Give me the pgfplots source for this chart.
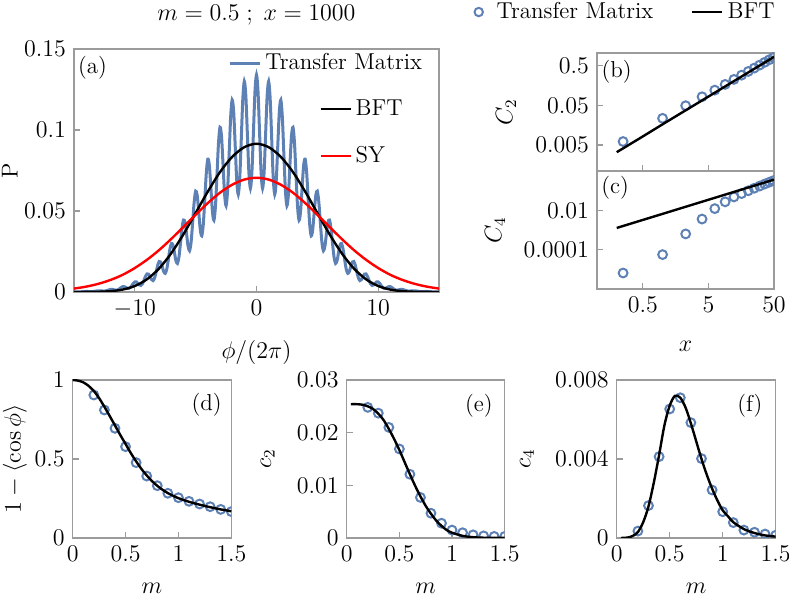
\documentclass[border=0pt]{standalone}
\usepackage{pgfplots}
\pgfplotsset{compat=1.18}
\definecolor{tmblue}{RGB}{94,129,181}
\definecolor{framegray}{RGB}{155,155,155}
\pgfplotsset{
  base/.style={scale only axis, anchor=south west,
    axis line style={framegray, line width=0.6pt},
    tick style={framegray, line width=0.6pt},
    major tick length=3pt, minor tick length=0pt, tick align=inside,
    xtick pos=left, ytick pos=left, clip marker paths=true,
    scaled x ticks=false, scaled y ticks=false,
    every axis y label/.style={rotate=90, anchor=center},
    every axis x label/.style={anchor=center}},
  tmmark/.style={only marks, mark=o, mark size=2.2pt, mark options={tmblue, line width=1pt, solid}, color=tmblue},
  bftline/.style={black, line width=1.2pt, smooth, no markers},
  lineleg/.style={legend image code/.code={\draw[##1] (0pt,0pt) -- (15pt,0pt);}},
  circleg/.style={legend image code/.code={\path[draw=none] (0pt,0pt) (11pt,0pt); \node[draw=tmblue, circle, line width=1pt, inner sep=0pt, outer sep=0pt, minimum size=4.2pt] at (4pt,0pt) {};}},
}
\begin{document}
\fontsize{11.5}{13.8}\selectfont
\begin{tikzpicture}
\useasboundingbox (0,0) rectangle (394.5pt,298.5pt);
% ---------------- (a)
\begin{axis}[base, at={(37pt,152.5pt)}, width=182.5pt, height=121.5pt,
  xmin=-15, xmax=15, ymin=0, ymax=0.15,
  xtick={-10,0,10}, xticklabels={$-10$,$0$,$10$},
  ytick={0,0.05,0.1,0.15}, yticklabels={$0$,$0.05$,$0.1$,$0.15$},
  xlabel={$\phi/(2\pi)$}, ylabel={P},
  x label style={at={(axis description cs:0.5,-0.247)}},
  y label style={at={(axis description cs:-0.176,0.5)}},
  title={$m=0.5\;;\;x=1000$},
  title style={at={(axis description cs:0.5,1.14)}, anchor=center, yshift=-6pt},
  legend style={draw=none, fill=none, at={(0.422,0.942)}, anchor=west, inner sep=0pt},
  lineleg]
\addplot[tmblue, line width=1.5pt, smooth, no markers] table {
-15 0.00014
-14.5 0.00010
-14 0.00033
-13.5 0.00024
-13 0.00075
-12.75 0.00068
-12.5 0.00053
-12.25 0.00099
-12 0.00162
-11.875 0.00164
-11.75 0.00144
-11.625 0.00118
-11.5 0.00112
-11.375 0.00141
-11.25 0.00205
-11.125 0.00278
-11 0.00327
-10.875 0.00329
-10.75 0.00287
-10.625 0.00234
-10.5 0.00219
-10.375 0.00275
-10.25 0.00395
-10.125 0.00533
-10 0.00624
-9.875 0.00622
-9.75 0.00537
-9.625 0.00436
-9.5 0.00405
-9.375 0.00504
-9.25 0.00719
-9.125 0.00963
-9 0.01117
-8.875 0.01105
-8.75 0.00948
-8.625 0.00762
-8.5 0.00703
-8.375 0.00869
-8.25 0.01230
-8.125 0.01634
-8 0.01882
-7.875 0.01848
-7.75 0.01572
-7.625 0.01255
-7.5 0.01149
-7.375 0.01408
-7.25 0.01979
-7.125 0.02609
-7 0.02981
-6.875 0.02905
-6.75 0.02453
-6.625 0.01943
-6.5 0.01765
-6.375 0.02147
-6.25 0.02995
-6.125 0.03918
-6 0.04441
-5.875 0.04295
-5.75 0.03600
-5.625 0.02829
-5.5 0.02550
-5.375 0.03078
-5.25 0.04261
-5.125 0.05532
-5 0.06224
-4.875 0.05973
-4.75 0.04968
-4.625 0.03875
-4.5 0.03466
-4.375 0.04152
-4.25 0.05703
-4.125 0.07347
-4 0.08203
-3.875 0.07812
-3.75 0.06448
-3.625 0.04990
-3.5 0.04430
-3.375 0.05266
-3.25 0.07178
-3.125 0.09177
-3 0.10167
-2.875 0.09609
-2.75 0.07870
-2.625 0.06045
-2.5 0.05325
-2.375 0.06281
-2.25 0.08497
-2.125 0.10780
-2 0.11853
-1.875 0.11116
-1.75 0.09035
-1.625 0.06887
-1.5 0.06020
-1.375 0.07047
-1.25 0.09461
-1.125 0.11911
-1 0.12995
-0.875 0.12095
-0.75 0.09755
-0.625 0.07379
-0.5 0.06401
-0.375 0.07436
-0.25 0.09906
-0.125 0.12376
0 0.13400
0.125 0.12376
0.25 0.09906
0.375 0.07436
0.5 0.06401
0.625 0.07379
0.75 0.09755
0.875 0.12095
1 0.12995
1.125 0.11911
1.25 0.09461
1.375 0.07047
1.5 0.06020
1.625 0.06887
1.75 0.09035
1.875 0.11116
2 0.11853
2.125 0.10780
2.25 0.08497
2.375 0.06281
2.5 0.05325
2.625 0.06045
2.75 0.07870
2.875 0.09609
3 0.10167
3.125 0.09177
3.25 0.07178
3.375 0.05266
3.5 0.04430
3.625 0.04990
3.75 0.06448
3.875 0.07812
4 0.08203
4.125 0.07347
4.25 0.05703
4.375 0.04152
4.5 0.03466
4.625 0.03875
4.75 0.04968
4.875 0.05973
5 0.06224
5.125 0.05532
5.25 0.04261
5.375 0.03078
5.5 0.02550
5.625 0.02829
5.75 0.03600
5.875 0.04295
6 0.04441
6.125 0.03918
6.25 0.02995
6.375 0.02147
6.5 0.01765
6.625 0.01943
6.75 0.02453
6.875 0.02905
7 0.02981
7.125 0.02609
7.25 0.01979
7.375 0.01408
7.5 0.01149
7.625 0.01255
7.75 0.01572
7.875 0.01848
8 0.01882
8.125 0.01634
8.25 0.01230
8.375 0.00869
8.5 0.00703
8.625 0.00762
8.75 0.00948
8.875 0.01105
9 0.01117
9.125 0.00963
9.25 0.00719
9.375 0.00504
9.5 0.00405
9.625 0.00436
9.75 0.00537
9.875 0.00622
10 0.00624
10.125 0.00533
10.25 0.00395
10.375 0.00275
10.5 0.00219
10.625 0.00234
10.75 0.00287
10.875 0.00329
11 0.00327
11.125 0.00278
11.25 0.00205
11.375 0.00141
11.5 0.00112
11.625 0.00118
11.75 0.00144
11.875 0.00164
12 0.00162
12.25 0.00099
12.5 0.00053
12.75 0.00068
13 0.00075
13.5 0.00024
14 0.00033
14.5 0.00010
15 0.00014
};
\addlegendentry{Transfer Matrix}
\addplot[bftline, forget plot] table {
-15 0.00001
-14 0.00003
-13 0.00014
-12 0.00050
-11 0.00149
-10 0.00370
-9 0.00786
-8 0.01455
-7 0.0240
-6 0.0357
-5 0.0488
-4 0.0620
-3 0.0740
-2 0.0834
-1 0.0894
0 0.0915
1 0.0894
2 0.0834
3 0.0740
4 0.0620
5 0.0488
6 0.0357
7 0.0240
8 0.01455
9 0.00786
10 0.00370
11 0.00149
12 0.00050
13 0.00014
14 0.00003
15 0.00001
};
\addplot[red, line width=1.2pt, smooth, no markers, forget plot] table {
-15 0.00210
-14 0.00330
-13 0.00503
-12 0.00743
-11 0.0106
-10 0.0148
-9 0.0199
-8 0.0259
-7 0.0328
-6 0.0402
-5 0.0477
-4 0.0549
-3 0.0613
-2 0.0662
-1 0.0694
0 0.0705
1 0.0694
2 0.0662
3 0.0613
4 0.0549
5 0.0477
6 0.0402
7 0.0328
8 0.0259
9 0.0199
10 0.0148
11 0.0106
12 0.00743
13 0.00503
14 0.00330
15 0.00210
};
\node at (rel axis cs:0.0507,0.924) {(a)};
\end{axis}
% overlay legends for (a)
\begin{axis}[base, hide axis, at={(37pt,152.5pt)}, width=182.5pt, height=121.5pt,
  xmin=-15, xmax=15, ymin=0, ymax=0.15,
  legend style={draw=none, fill=none, at={(0.671,0.753)}, anchor=west, inner sep=0pt}, lineleg]
\addlegendimage{black, line width=1.2pt}
\addlegendentry{BFT}
\end{axis}
\begin{axis}[base, hide axis, at={(37pt,152.5pt)}, width=182.5pt, height=121.5pt,
  xmin=-15, xmax=15, ymin=0, ymax=0.15,
  legend style={draw=none, fill=none, at={(0.671,0.56)}, anchor=west, inner sep=0pt}, lineleg]
\addlegendimage{red, line width=1.2pt}
\addlegendentry{SY}
\end{axis}
% ---------------- (b)
\begin{axis}[base, at={(298.5pt,213pt)}, width=88.5pt, height=59pt,
  xmode=log, ymode=log, xmin=0.1, xmax=50, ymin=0.0011, ymax=1.05,
  xtick={0.5,5,50}, xticklabels={},
  ytick={0.005,0.05,0.5}, yticklabels={$0.005$,$0.05$,$0.5$},
  ylabel={$C_2$}, y label style={at={(axis description cs:-0.514,0.5)}},
  legend columns=2,
  legend style={draw=none, fill=none, at={(1.028,1.347)}, anchor=east, inner sep=0pt,
    /tikz/every even column/.append style={column sep=17pt}}]
\addplot[tmmark, circleg] table {
0.25 0.0061
1 0.0235
2.25 0.049
4 0.0824
6.25 0.121
9 0.169
12.25 0.226
16 0.289
20.25 0.359
25 0.436
30.25 0.520
36 0.610
42.25 0.707
49 0.810
};
\addlegendentry{Transfer Matrix}
\addplot[black, line width=1.2pt, no markers, lineleg] table {
0.2 0.00328
0.5 0.0082
1 0.0166
2 0.0333
5 0.0833
10 0.167
20 0.334
50 0.837
};
\addlegendentry{BFT}
\node at (rel axis cs:0.111,0.843) {(b)};
\end{axis}
% ---------------- (c)
\begin{axis}[base, at={(298.5pt,154pt)}, width=88.5pt, height=59pt,
  xmode=log, ymode=log, xmin=0.1, xmax=50, ymin=1e-6, ymax=1,
  xtick={0.5,5,50}, xticklabels={$0.5$,$5$,$50$},
  ytick={0.0001,0.01}, yticklabels={$0.0001$,$0.01$},
  xlabel={$x$}, ylabel={$C_4$},
  x label style={at={(axis description cs:0.5,-0.49)}},
  y label style={at={(axis description cs:-0.576,0.5)}}]
\addplot[tmmark] table {
0.25 0.0000065
1 0.000056
2.25 0.00063
4 0.0036
6.25 0.0122
9 0.027
12.25 0.048
16 0.071
20.25 0.0988
25 0.1327
30.25 0.1717
36 0.217
42.25 0.267
49 0.324
};
\addplot[black, line width=1.2pt, no markers] table {
0.2 0.00127
1 0.0066
5 0.0344
50 0.364
};
\node at (rel axis cs:0.102,0.86) {(c)};
\end{axis}
% ---------------- (d)
\begin{axis}[base, at={(36.35pt,29.5pt)}, width=79.3pt, height=79pt,
  xmin=0, xmax=1.5, ymin=0, ymax=1,
  xtick={0,0.5,1,1.5}, xticklabels={$0$,$0.5$,$1$,$1.5$},
  ytick={0,0.5,1}, yticklabels={$0$,$0.5$,$1$},
  xlabel={$m$}, ylabel={$1-\langle\cos\phi\rangle$},
  x label style={at={(axis description cs:0.5,-0.316)}},
  y label style={at={(axis description cs:-0.364,0.5)}}]
\addplot[tmmark] table {
0.2 0.905
0.3 0.81
0.4 0.694
0.5 0.578
0.6 0.477
0.7 0.392
0.8 0.331
0.9 0.283
1.0 0.255
1.1 0.232
1.2 0.215
1.3 0.198
1.4 0.181
1.5 0.167
};
\addplot[bftline] table {
0 1.0
0.05 0.996
0.1 0.985
0.15 0.963
0.2 0.93
0.25 0.885
0.3 0.83
0.35 0.772
0.4 0.712
0.45 0.652
0.5 0.595
0.55 0.537
0.6 0.485
0.65 0.437
0.7 0.396
0.75 0.36
0.8 0.33
0.85 0.305
0.9 0.284
0.95 0.267
1.0 0.252
1.1 0.229
1.2 0.211
1.3 0.195
1.4 0.181
1.5 0.169
};
\node at (rel axis cs:0.845,0.842) {(d)};
\end{axis}
% ---------------- (e)
\begin{axis}[base, at={(173.35pt,29.5pt)}, width=79pt, height=79pt,
  xmin=0, xmax=1.5, ymin=0, ymax=0.03,
  xtick={0,0.5,1,1.5}, xticklabels={$0$,$0.5$,$1$,$1.5$},
  ytick={0,0.01,0.02,0.03}, yticklabels={$0$,$0.01$,$0.02$,$0.03$},
  xlabel={$m$}, ylabel={$c_2$},
  x label style={at={(axis description cs:0.5,-0.316)}},
  y label style={at={(axis description cs:-0.50,0.5)}}]
\addplot[tmmark] table {
0.2 0.0248
0.3 0.0237
0.4 0.0210
0.5 0.0169
0.6 0.0121
0.7 0.0077
0.8 0.0047
0.9 0.0028
1.0 0.0015
1.1 0.0010
1.2 0.0006
1.3 0.0004
1.4 0.0003
1.5 0.0003
};
\addplot[bftline] table {
0.04 0.0254
0.1 0.0254
0.15 0.0253
0.2 0.0250
0.25 0.0245
0.3 0.0236
0.35 0.0224
0.4 0.0207
0.45 0.0188
0.5 0.0167
0.55 0.0144
0.6 0.0121
0.65 0.0099
0.7 0.0079
0.75 0.0061
0.8 0.0046
0.85 0.0033
0.9 0.0023
0.95 0.0015
1.0 0.0010
1.1 0.0004
1.2 0.00015
1.3 0.00005
1.4 0.00002
1.5 0.00001
};
\node at (rel axis cs:0.837,0.835) {(e)};
\end{axis}
% ---------------- (f)
\begin{axis}[base, at={(308.35pt,29.5pt)}, width=79.5pt, height=79pt,
  xmin=0, xmax=1.5, ymin=0, ymax=0.008,
  xtick={0,0.5,1,1.5}, xticklabels={$0$,$0.5$,$1$,$1.5$},
  ytick={0,0.004,0.008}, yticklabels={$0$,$0.004$,$0.008$},
  xlabel={$m$}, ylabel={$c_4$},
  x label style={at={(axis description cs:0.5,-0.316)}},
  y label style={at={(axis description cs:-0.564,0.5)}}]
\addplot[tmmark] table {
0.2 0.00035
0.3 0.00164
0.4 0.00412
0.5 0.00653
0.6 0.0071
0.7 0.00584
0.8 0.00402
0.9 0.00243
1.0 0.00133
1.1 0.00078
1.2 0.0004
1.3 0.00029
1.4 0.0002
1.5 0.00014
};
\addplot[bftline] table {
0.04 0.0
0.1 0.00002
0.15 0.0001
0.2 0.0003
0.25 0.0008
0.3 0.0016
0.35 0.0028
0.4 0.0042
0.45 0.0057
0.5 0.0067
0.55 0.0072
0.6 0.0071
0.65 0.0066
0.7 0.0058
0.75 0.0049
0.8 0.0040
0.85 0.0032
0.9 0.0025
0.95 0.0019
1.0 0.0014
1.05 0.0011
1.1 0.0008
1.2 0.00045
1.3 0.00025
1.4 0.00013
1.5 0.00007
};
\node at (rel axis cs:0.838,0.835) {(f)};
\end{axis}
\end{tikzpicture}
\end{document}
